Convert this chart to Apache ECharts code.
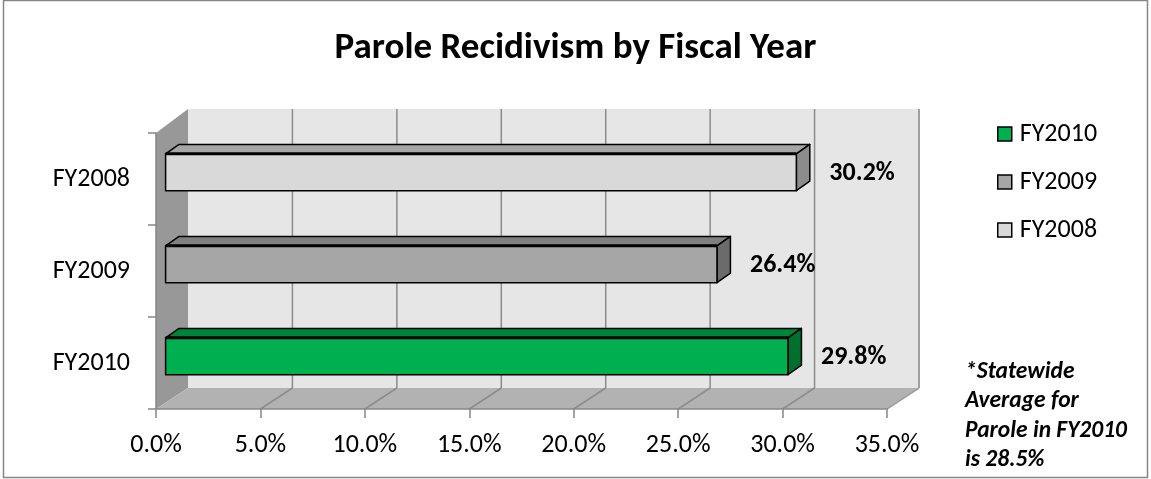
<!DOCTYPE html>
<html><head><meta charset="utf-8">
<script src="https://cdn.jsdelivr.net/npm/echarts@6/dist/echarts.min.js"></script>
<style>html,body{margin:0;padding:0;background:#fff}#c{width:1151px;height:479px}</style>
</head><body><div id="c"></div>
<script>
// ---- data ----
const categories = ['FY2010', 'FY2009', 'FY2008'];   // bottom to top
const values = [29.8, 26.4, 30.2];
const legendOrder = ['FY2010', 'FY2009', 'FY2008'];
const xMin = 0, xMax = 35, xStep = 5;
const titleText = 'Parole Recidivism by Fiscal Year';
const noteLines = ['*Statewide', 'Average for', 'Parole in FY2010', 'is 28.5%'];

// ---- styles ----
const FONT = 'Carlito, Lato, sans-serif';
const faceColors = {
  FY2010: ['#00B050', '#00843B', '#00702F'],
  FY2009: ['#A6A6A6', '#808080', '#6B6B6B'],
  FY2008: ['#D9D9D9', '#A6A6A6', '#8C8C8C']
};
const DX = 32, DYT = -24, DYB = -21;   // box depth
const BDX = 32, BDY = -22.5;           // bar depth vector
const BF = 0.3, BB = 0.72;             // bar front / back depth fractions

function renderWalls(params, api) {
  const cs = params.coordSys;
  const x0 = cs.x, x1 = cs.x + cs.width, y0 = cs.y, y1 = cs.y + cs.height;
  const ch = [];
  ch.push({type: 'polygon', shape: {points: [[x0 + DX, y0 + DYT], [x1 + DX, y0 + DYT], [x1 + DX, y1 + DYB], [x0 + DX, y1 + DYB]]}, style: {fill: '#E6E6E6'}});
  ch.push({type: 'polygon', shape: {points: [[x0, y0], [x0 + DX, y0 + DYT], [x0 + DX, y1 + DYB], [x0, y1]]}, style: {fill: '#989898'}});
  ch.push({type: 'polygon', shape: {points: [[x0, y1], [x0 + DX, y1 + DYB], [x1 + DX, y1 + DYB], [x1, y1]]}, style: {fill: '#B2B2B2'}});
  for (let v = xMin + xStep; v <= xMax; v += xStep) {
    const fx = api.coord([v, 0])[0];
    const last = v === xMax;
    ch.push({type: 'line', shape: {x1: fx + DX, y1: y0 + DYT, x2: fx + DX, y2: y1 + DYB}, style: {stroke: last ? '#A0A0A0' : '#8C8C8C', lineWidth: last ? 2 : 1.5}});
    ch.push({type: 'line', shape: {x1: fx + DX, y1: y1 + DYB, x2: fx, y2: y1}, style: {stroke: last ? '#A0A0A0' : '#8C8C8C', lineWidth: 1.5}});
  }
  return {type: 'group', children: ch};
}

function makeBarRenderer(name) {
  const col = faceColors[name];
  return function (params, api) {
    const v = api.value(0), c = api.value(1);
    const p0 = api.coord([0, c]), p1 = api.coord([v, c]);
    const band = api.size([0, 1])[1];
    const h = band * 0.4;
    const ox = BDX * BF, oy = BDY * BF;
    const dx = BDX * (BB - BF), dy = BDY * (BB - BF);
    const xl = p0[0] + ox, xr = p1[0] + ox;
    const yt = p1[1] + oy - h / 2, yb = p1[1] + oy + h / 2;
    const stroke = {stroke: '#000', lineWidth: 1.5, lineJoin: 'round'};
    return {type: 'group', children: [
      {type: 'polygon', shape: {points: [[xl, yt], [xl + dx, yt + dy], [xr + dx, yt + dy], [xr, yt]]}, style: Object.assign({fill: col[1]}, stroke)},
      {type: 'polygon', shape: {points: [[xr, yt], [xr + dx, yt + dy], [xr + dx, yb + dy], [xr, yb]]}, style: Object.assign({fill: col[2]}, stroke)},
      {type: 'rect', shape: {x: xl, y: yt, width: xr - xl, height: h}, style: Object.assign({fill: col[0]}, stroke)},
      {type: 'line', shape: {x1: xl, y1: yt, x2: xr, y2: yt}, style: {stroke: '#000', lineWidth: 3}},
      {type: 'text', x: xr + 33, y: p1[1] + oy + 1.5, style: {text: v.toFixed(1) + '%', fontFamily: FONT, fontWeight: 'bold', fontSize: 26, fill: '#000', textAlign: 'left', textVerticalAlign: 'middle'}}
    ]};
  };
}

const series = [{type: 'custom', name: '_walls', silent: true, z: 1, renderItem: renderWalls, data: [[0, 0]]}];
categories.forEach((name, i) => {
  series.push({type: 'custom', name: name, z: 3, itemStyle: {color: faceColors[name][0]}, renderItem: makeBarRenderer(name), data: [[values[i], i]]});
});

const chart = echarts.init(document.getElementById('c'), null, {renderer: 'canvas'});
chart.setOption({
  animation: false,
  backgroundColor: '#fff',
  title: {text: titleText, left: 'center', top: 25, textStyle: {fontFamily: FONT, fontWeight: 'bold', fontSize: 37, color: '#000'}},
  grid: {left: 156, top: 133, width: 731, height: 276, containLabel: false},
  xAxis: {type: 'value', min: xMin, max: xMax, interval: xStep, z: 5,
    axisLine: {show: true, lineStyle: {color: '#868686', width: 1.5}},
    axisTick: {show: true, length: 9, lineStyle: {color: '#868686', width: 1.5}},
    splitLine: {show: false},
    axisLabel: {formatter: v => v.toFixed(1) + '%', fontFamily: FONT, fontSize: 26, color: '#000', margin: 23}},
  yAxis: {type: 'category', data: categories, z: 5,
    axisLine: {show: true, lineStyle: {color: '#868686', width: 1.5}},
    axisTick: {show: true, length: 8, lineStyle: {color: '#868686', width: 1.5}},
    axisLabel: {fontFamily: FONT, fontSize: 26, color: '#000', margin: 26, padding: [4, 0, 0, 0]}},
  legend: {orient: 'vertical', left: 997, top: 120, padding: 0, itemWidth: 14, itemHeight: 14, itemGap: 20,
    icon: 'rect', data: legendOrder, selectedMode: false,
    itemStyle: {borderColor: '#000', borderWidth: 1.5},
    textStyle: {fontFamily: FONT, fontSize: 26, color: '#000', lineHeight: 28, padding: [0, 0, 0, 3]}},
  graphic: [
    {type: 'rect', shape: {x: 3.5, y: 0.5, width: 1144, height: 477}, style: {fill: 'none', stroke: '#868686', lineWidth: 1.5}, silent: true},
    {type: 'text', left: 965, top: 357, style: {text: noteLines.join('\n'), fontFamily: FONT, fontWeight: 'bold', fontStyle: 'italic', fontSize: 23.5, lineHeight: 29.5, fill: '#000'}}
  ],
  series: series
});
</script>
</body></html>
